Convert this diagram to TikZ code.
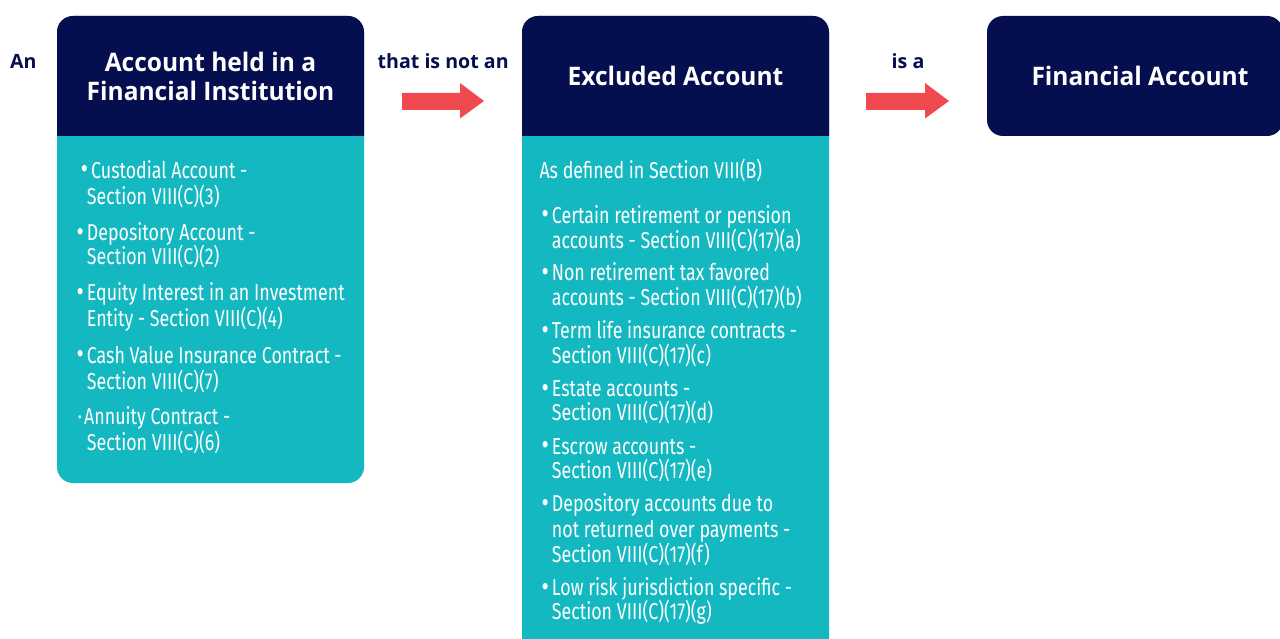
\documentclass[tikz,border=0pt]{standalone}
\usepackage{fontspec}
\setmainfont{Fira Sans}
\newfontfamily\hfont[FakeStretch=0.962]{Open Sans}
\newfontfamily\lfont{Open Sans}
\newfontfamily\bfont[FakeStretch=0.775]{Fira Sans}
\definecolor{navy}{HTML}{050E4E}
\definecolor{tealc}{HTML}{14B8C1}
\definecolor{redc}{HTML}{EF4A50}
\newcommand{\bul}{\llap{\raisebox{-0.6pt}{\scalebox{1.25}{•}}\hspace{3pt}}}
\newcommand{\mdot}{\llap{·\hspace{2pt}}}
\begin{document}
\begin{tikzpicture}[x=1pt,y=-1pt,
  hdr/.style={text=white,font=\hfont\bfseries\fontsize{25.5}{29}\selectfont,inner sep=0pt,anchor=base},
  lbl/.style={text=navy,font=\lfont\bfseries\fontsize{19.6}{22}\selectfont,inner sep=0pt,anchor=base west},
  txt/.style={text=white,font=\bfont\fontsize{23}{26}\selectfont,inner sep=0pt,anchor=base west},
  blockarrow/.style={fill=redc},
  ]
\clip (0,0) rectangle (1280,639);
\fill[white] (0,0) rectangle (1280,639);
% box 1
\fill[tealc,rounded corners=16pt] (57,16) rectangle (364,483);
\fill[navy,rounded corners=16pt] (57,16) rectangle (364,152);
\fill[tealc] (57,136) rectangle (364,160);
% box 2
\fill[tealc,rounded corners=16pt] (522,16) rectangle (829,660);
\fill[navy,rounded corners=16pt] (522,16) rectangle (829,152);
\fill[tealc] (522,136) rectangle (829,160);
% box 3
\fill[navy,rounded corners=16pt] (987,16) rectangle (1283,136);
% arrows
\fill[blockarrow] (402,93) -- (460,93) -- (460,83) -- (484,101) -- (460,118.5) -- (460,110) -- (402,110) -- cycle;
\fill[blockarrow] (866,93) -- (925,93) -- (925,83) -- (949,101) -- (925,118.5) -- (925,110) -- (866,110) -- cycle;
% labels
\node[lbl] (an) at (10,68.8) {An};
\node[lbl] (notan) at (377.5,68.8) {that is not an};
\node[lbl] (isa) at (891.5,68.8) {is a};
% headers
\node[hdr] (h1a) at (210.5,72) {Account held in a};
\node[hdr] (h1b) at (210.5,101) {Financial Institution};
\node[hdr] (h2) at (675.5,86) {Excluded Account};
\node[hdr] (h3) at (1140,86) {Financial Account};
% box 1 items
\node[txt] (a1) at (91,178.2) {\bul Custodial Account -};
\node[txt] (a1b) at (86.7,204.2) {Section VIII(C)(3)};
\node[txt] (a2) at (86.7,240.8) {\bul Depository Account -};
\node[txt] (a2b) at (86.7,264.8) {Section VIII(C)(2)};
\node[txt] (a3) at (86.7,300.8) {\bul Equity Interest in an Investment};
\node[txt] (a3b) at (86.7,326.5) {Entity - Section VIII(C)(4)};
\node[txt] (a4) at (86.7,363.2) {\bul Cash Value Insurance Contract -};
\node[txt] (a4b) at (86.7,389.8) {Section VIII(C)(7)};
\node[txt] (a5) at (84,424.8) {\mdot Annuity Contract -};
\node[txt] (a5b) at (86.7,450.8) {Section VIII(C)(6)};
% box 2 items
\node[txt] (c0) at (539.3,178.8) {As defined in Section VIII(B)};
\node[txt] (c1) at (551.7,223.2) {\bul Certain retirement or pension};
\node[txt] (c1b) at (551.7,248.2) {accounts - Section VIII(C)(17)(a)};
\node[txt] (c2) at (551.7,280.8) {\bul Non retirement tax favored};
\node[txt] (c2b) at (551.7,305.5) {accounts - Section VIII(C)(17)(b)};
\node[txt] (c3) at (551.7,338.8) {\bul Term life insurance contracts -};
\node[txt] (c3b) at (551.7,363.2) {Section VIII(C)(17)(c)};
\node[txt] (c4) at (551.7,396.5) {\bul Estate accounts -};
\node[txt] (c4b) at (551.7,420.8) {Section VIII(C)(17)(d)};
\node[txt] (c5) at (551.7,454.2) {\bul Escrow accounts -};
\node[txt] (c5b) at (551.7,478.8) {Section VIII(C)(17)(e)};
\node[txt] (c6) at (551.7,511.5) {\bul Depository accounts due to};
\node[txt] (c6b) at (551.7,537.5) {not returned over payments -};
\node[txt] (c6c) at (551.7,562.2) {Section VIII(C)(17)(f)};
\node[txt] (c7) at (551.7,595.5) {\bul Low risk jurisdiction specific -};
\node[txt] (c7b) at (551.7,619.8) {Section VIII(C)(17)(g)};
\end{tikzpicture}
\end{document}
